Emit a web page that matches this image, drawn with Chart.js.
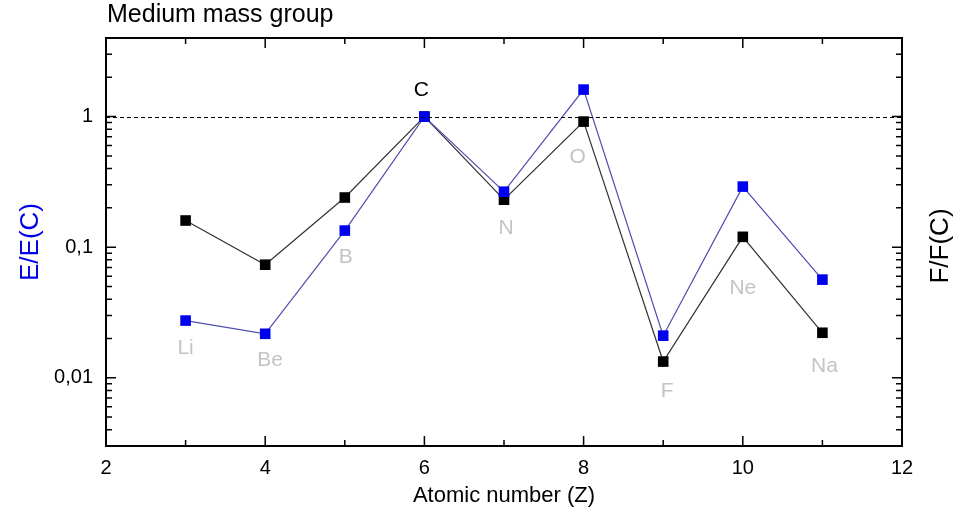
<!DOCTYPE html>
<html lang="en">
  <head>
    <script src="https://cdn.jsdelivr.net/npm/chart.js"></script>
    <style>
      html, body { margin: 0; padding: 0; background: #fff; }
    </style>
  </head>
  <body>
    <div style="width: 959px; height: 512px"><canvas id="chart"></canvas></div>
    <script type="text/javascript">
      // atomic number Z and element names
      const atomicNumbers = [3, 4, 5, 6, 7, 8, 9, 10, 11];
      const elementNames = ['Li', 'Be', 'B', 'C', 'N', 'O', 'F', 'Ne', 'Na'];
      // E/E(C) (blue) and F/F(C) (black)
      const energyRatio = [0.0274, 0.0217, 0.134, 1.0, 0.266, 1.61, 0.021, 0.291, 0.0564];
      const fluxRatio = [0.16, 0.0734, 0.24, 1.0, 0.231, 0.916, 0.0133, 0.12, 0.0221];
      const xTickLabels = [2, 4, 6, 8, 10, 12];
      const yTickLabels = [0.01, 0.1, 1];

      // label offsets (px) from the lower marker of each element
      const labelDx = [0, 5, 1, -3, 2, -6, 4, 0, 2];
      const labelDy = [28, 26, 27, -26, 29, 36, 30, 51, 33];

      const FONT = "'Liberation Sans', Arial, sans-serif";

      const framePlugin = {
        id: 'frame',
        afterDraw(chart) {
          const ctx = chart.ctx;
          const a = chart.chartArea;
          const x = chart.scales.x;
          const y = chart.scales.y;
          ctx.save();

          // dashed reference line at 1
          ctx.strokeStyle = '#000';
          ctx.lineWidth = 1;
          ctx.setLineDash([4, 3]);
          const y1 = Math.round(y.getPixelForValue(1)) + 0.5;
          ctx.beginPath();
          ctx.moveTo(a.left, y1);
          ctx.lineTo(a.right, y1);
          ctx.stroke();
          ctx.setLineDash([]);

          // frame
          ctx.lineWidth = 2;
          ctx.strokeRect(a.left, a.top, a.right - a.left, a.bottom - a.top);

          // inward ticks
          ctx.lineWidth = 1.5;
          ctx.beginPath();
          for (let z = 3; z < 12; z++) {
            const px = x.getPixelForValue(z);
            const len = z % 2 === 0 ? 10 : 6;
            ctx.moveTo(px, a.bottom);
            ctx.lineTo(px, a.bottom - len);
            ctx.moveTo(px, a.top);
            ctx.lineTo(px, a.top + len);
          }
          [0.001, 0.01, 0.1, 1].forEach((dec) => {
            for (let m = 1; m <= 9; m++) {
              const v = dec * m;
              if (v <= y.min || v >= y.max) continue;
              const py = y.getPixelForValue(v);
              const len = m === 1 ? 10 : 6;
              ctx.moveTo(a.left, py);
              ctx.lineTo(a.left + len, py);
              ctx.moveTo(a.right, py);
              ctx.lineTo(a.right - len, py);
            }
          });
          ctx.stroke();

          // chart title
          ctx.fillStyle = '#000';
          ctx.font = '25px ' + FONT;
          ctx.textAlign = 'left';
          ctx.textBaseline = 'middle';
          ctx.fillText('Medium mass group', a.left + 1, 15);

          // right axis title, reading upwards
          ctx.save();
          ctx.translate(941, (a.top + a.bottom) / 2 + 4);
          ctx.rotate(-Math.PI / 2);
          ctx.textAlign = 'center';
          ctx.font = '26px ' + FONT;
          ctx.fillText('F/F(C)', 0, 0);
          ctx.restore();

          // element labels
          ctx.font = '21px ' + FONT;
          ctx.textAlign = 'center';
          elementNames.forEach((name, i) => {
            const low = Math.min(energyRatio[i], fluxRatio[i]);
            const px = x.getPixelForValue(atomicNumbers[i]) + labelDx[i];
            const py = y.getPixelForValue(low) + labelDy[i];
            ctx.fillStyle = name === 'C' ? '#000' : '#c4c4c4';
            ctx.fillText(name, px, py);
          });
          ctx.restore();
        },
      };

      const fixedTicks = (values) => (scale) => {
        scale.ticks = values.map((v) => ({ value: v }));
      };

      new Chart(document.getElementById('chart'), {
        type: 'line',
        plugins: [framePlugin],
        data: {
          datasets: [
            {
              label: 'E/E(C)',
              data: atomicNumbers.map((z, i) => ({ x: z, y: energyRatio[i] })),
              yAxisID: 'y',
              borderColor: '#4e4eb0',
              borderWidth: 1.2,
              pointStyle: 'rect',
              pointRadius: 7.5,
              pointBorderWidth: 0,
              pointBackgroundColor: '#0000f0',
            },
            {
              label: 'F/F(C)',
              data: atomicNumbers.map((z, i) => ({ x: z, y: fluxRatio[i] })),
              yAxisID: 'y2',
              borderColor: '#333333',
              borderWidth: 1.2,
              pointStyle: 'rect',
              pointRadius: 7.5,
              pointBorderWidth: 0,
              pointBackgroundColor: '#000000',
            },
          ],
        },
        options: {
          responsive: true,
          maintainAspectRatio: false,
          animation: false,
          layout: { padding: { top: 38, left: 0, right: 0, bottom: 0 } },
          plugins: { legend: { display: false }, tooltip: { enabled: false } },
          scales: {
            x: {
              type: 'linear',
              min: 2,
              max: 12,
              afterBuildTicks: fixedTicks(xTickLabels),
              afterFit: (s) => { s.height = 66; },
              grid: { display: false, drawTicks: false },
              border: { display: false },
              ticks: { color: '#000', padding: 10, font: { family: FONT, size: 20 } },
              title: {
                display: true,
                text: 'Atomic number (Z)',
                color: '#000',
                padding: { top: 0, bottom: 3 },
                font: { family: FONT, size: 22 },
              },
            },
            y: {
              type: 'logarithmic',
              position: 'left',
              min: 0.003,
              max: 4,
              afterBuildTicks: fixedTicks(yTickLabels),
              afterFit: (s) => { s.width = 106; },
              grid: { display: false, drawTicks: false },
              border: { display: false },
              ticks: {
                color: '#000',
                padding: 13,
                font: { family: FONT, size: 20 },
                callback: (v) => String(v).replace('.', ','),
              },
              title: {
                display: true,
                text: 'E/E(C)',
                color: '#0000e8',
                padding: { top: 15, bottom: 0 },
                font: { family: FONT, size: 26 },
              },
            },
            y2: {
              type: 'logarithmic',
              position: 'right',
              min: 0.003,
              max: 4,
              afterFit: (s) => { s.width = 57; },
              grid: { display: false, drawTicks: false },
              border: { display: false },
              ticks: { display: false },
            },
          },
        },
      });
    </script>
  </body>
</html>
